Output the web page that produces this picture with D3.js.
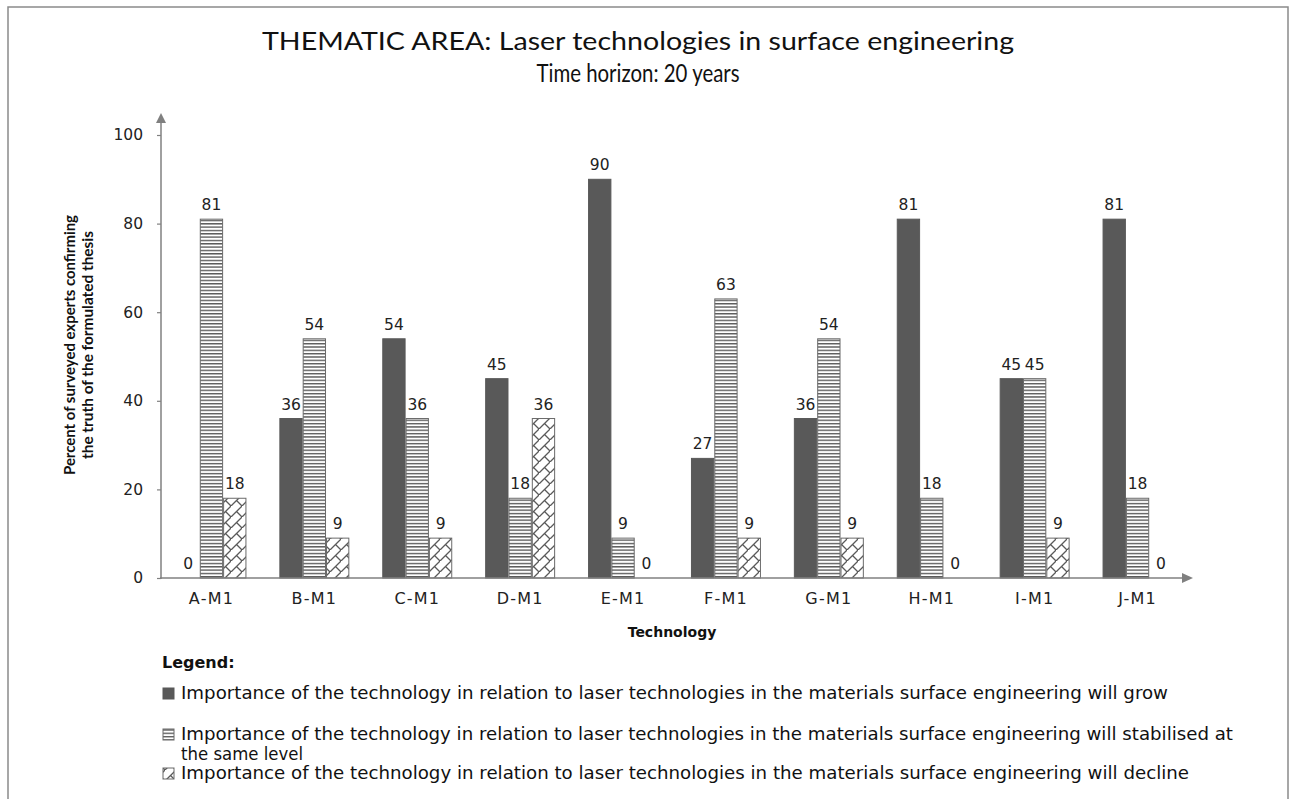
<!DOCTYPE html>
<html><head><meta charset="utf-8">
<script src="https://cdn.jsdelivr.net/npm/d3@7"></script>
<style>body{margin:0;background:#fff;}svg{display:block;}</style>
</head><body>
<svg id="chart" width="1296" height="799"></svg>
<script>
const categories = ["A-M1","B-M1","C-M1","D-M1","E-M1","F-M1","G-M1","H-M1","I-M1","J-M1"];
const growValues    = [0, 36, 54, 45, 90, 27, 36, 81, 45, 81];
const stableValues  = [81, 54, 36, 18, 9, 63, 54, 18, 45, 18];
const declineValues = [18, 9, 9, 36, 0, 9, 9, 0, 9, 0];
const yTicks = [0, 20, 40, 60, 80, 100];
const seriesNames = ["grow","stable","decline"];
const legendLabels = [
  "Importance of the technology in relation to laser technologies in the materials surface engineering will grow",
  "Importance of the technology in relation to laser technologies in the materials surface engineering will stabilised at",
  "Importance of the technology in relation to laser technologies in the materials surface engineering will decline"
];
const legendContinuation = "the same level";
const titleLines = ["THEMATIC AREA: Laser technologies in surface engineering", "Time horizon: 20 years"];
const yTitleLines = ["Percent of surveyed experts confirming", "the truth of the formulated thesis"];
const xTitle = "Technology";

const svg = d3.select("#chart");
const defs = svg.append("defs");

// horizontal stripes pattern
const ps = defs.append("pattern").attr("id","stripes").attr("patternUnits","userSpaceOnUse")
  .attr("width",8).attr("height",3.33);
ps.append("rect").attr("width",8).attr("height",3.33).attr("fill","#fff");
ps.append("rect").attr("y",0).attr("width",8).attr("height",1.4).attr("fill","#5a5a5a");

// diagonal brick pattern
const pb = defs.append("pattern").attr("id","brick").attr("patternUnits","userSpaceOnUse")
  .attr("width",11).attr("height",11);
pb.append("rect").attr("width",11).attr("height",11).attr("fill","#fff");
pb.append("path").attr("d","M-1,12 L12,-1 M5.5,5.5 L11,11 M-5.5,5.5 L0,11")
  .attr("stroke","#5a5a5a").attr("stroke-width",1.3).attr("fill","none");

// border frame
svg.append("rect").attr("x",8).attr("y",7).attr("width",1280).attr("height",810)
  .attr("fill","none").attr("stroke","#8a8a8a").attr("stroke-width",1.5);

// title
svg.selectAll("text.title").data(titleLines).enter().append("text")
  .attr("class","title")
  .attr("x",638).attr("y",(d,i)=>50+i*32)
  .attr("text-anchor","middle")
  .attr("font-family","Lato, 'Open Sans', sans-serif")
  .attr("font-size",25).attr("fill","#111")
  .attr("textLength",(d,i)=> i===0 ? 752 : 203)
  .attr("lengthAdjust","spacingAndGlyphs")
  .text(d=>d);

const x0 = d3.scaleBand().domain(categories).range([160,1189]).paddingInner(0.32).paddingOuter(0.16);
const x1 = d3.scaleBand().domain(seriesNames).range([0, x0.bandwidth()]);
const y = d3.scaleLinear().domain([0,100]).range([578,135]);

const fills = {grow:"#595959", stable:"url(#stripes)", decline:"url(#brick)"};
const strokes = {grow:"#595959", stable:"#6a6a6a", decline:"#6a6a6a"};
const valuesBy = {grow:growValues, stable:stableValues, decline:declineValues};

const data = [];
categories.forEach((c,i)=>{
  seriesNames.forEach(s=>{ data.push({cat:c, s:s, v:valuesBy[s][i]}); });
});

const g = svg.append("g");
g.selectAll("rect.bar").data(data.filter(d=>d.v>0)).enter().append("rect")
  .attr("class","bar")
  .attr("x",d=>x0(d.cat)+x1(d.s)+0.5)
  .attr("y",d=>y(d.v))
  .attr("width",x1.bandwidth()-1)
  .attr("height",d=>y(0)-y(d.v))
  .attr("fill",d=>fills[d.s])
  .attr("stroke",d=>strokes[d.s]).attr("stroke-width",1);

// value labels
g.selectAll("text.val").data(data).enter().append("text")
  .attr("class","val")
  .attr("x",d=>x0(d.cat)+x1(d.s)+x1.bandwidth()/2)
  .attr("y",d=>y(d.v)-9)
  .attr("text-anchor","middle")
  .attr("font-family","'DejaVu Sans', Verdana, sans-serif")
  .attr("font-size",15.5).attr("fill","#222")
  .text(d=>d.v);

// Y axis
const yAxis = d3.axisLeft(y).tickValues(yTicks).tickSize(4).tickPadding(14);
const ya = svg.append("g").attr("transform","translate(161,0)").call(yAxis);
ya.select(".domain").remove();
ya.selectAll(".tick line").attr("stroke","#808080").attr("stroke-width",1.2);
ya.selectAll(".tick text").attr("font-family","'DejaVu Sans', Verdana, sans-serif")
  .attr("font-size",15.5).attr("fill","#222");
svg.append("line").attr("x1",161).attr("x2",161).attr("y1",579).attr("y2",120)
  .attr("stroke","#808080").attr("stroke-width",1.5);
svg.append("path").attr("d","M161,113 L166,123 L156,123 Z").attr("fill","#808080");

// X axis
const xAxis = d3.axisBottom(x0).tickSize(0).tickPadding(15);
const xa = svg.append("g").attr("transform","translate(0,578)").call(xAxis);
xa.select(".domain").remove();
xa.selectAll(".tick text").attr("font-family","'DejaVu Sans', Verdana, sans-serif")
  .attr("font-size",16).attr("fill","#222").attr("letter-spacing","1.2px");
svg.append("line").attr("x1",160).attr("x2",1184).attr("y1",578).attr("y2",578)
  .attr("stroke","#808080").attr("stroke-width",1.5);
svg.append("path").attr("d","M1193,578 L1182,573 L1182,583 Z").attr("fill","#808080");

// axis titles
svg.append("text").attr("x",672).attr("y",637).attr("text-anchor","middle")
  .attr("font-family","'DejaVu Sans', Verdana, sans-serif").attr("font-weight","bold")
  .attr("font-size",14).attr("fill","#111").text(xTitle);

svg.selectAll("text.ytitle").data(yTitleLines).enter().append("text")
  .attr("class","ytitle")
  .attr("transform",(d,i)=>`translate(${75+i*18},345) rotate(-90)`)
  .attr("text-anchor","middle")
  .attr("font-family","Lato, 'Liberation Sans Narrow', sans-serif").attr("font-weight","bold")
  .attr("font-size",15.5).attr("fill","#111")
  .attr("textLength",(d,i)=> i===0 ? 260 : 228)
  .attr("lengthAdjust","spacingAndGlyphs")
  .text(d=>d);

// legend
const lf = "'DejaVu Sans', Verdana, sans-serif";
svg.append("text").attr("x",162).attr("y",668).attr("font-family",lf).attr("font-weight","bold")
  .attr("font-size",16).attr("fill","#111").text("Legend:");
const legY = [699, 740, 779];
const legLen = [987, 1052, 1008];
const leg = svg.selectAll("g.leg").data(seriesNames).enter().append("g").attr("class","leg");
leg.append("rect").attr("x",163).attr("y",(d,i)=>legY[i]-11).attr("width",11).attr("height",11)
  .attr("fill",d=>fills[d]).attr("stroke",d=>strokes[d]).attr("stroke-width",1);
leg.append("text").attr("x",181).attr("y",(d,i)=>legY[i])
  .attr("font-family",lf).attr("font-size",17).attr("fill","#111")
  .attr("textLength",(d,i)=>legLen[i]).attr("lengthAdjust","spacingAndGlyphs")
  .text((d,i)=>legendLabels[i]);
svg.append("text").attr("x",181).attr("y",760).attr("font-family",lf).attr("font-size",17)
  .attr("fill","#111").attr("textLength",122).attr("lengthAdjust","spacingAndGlyphs")
  .text(legendContinuation);
</script>
</body></html>
